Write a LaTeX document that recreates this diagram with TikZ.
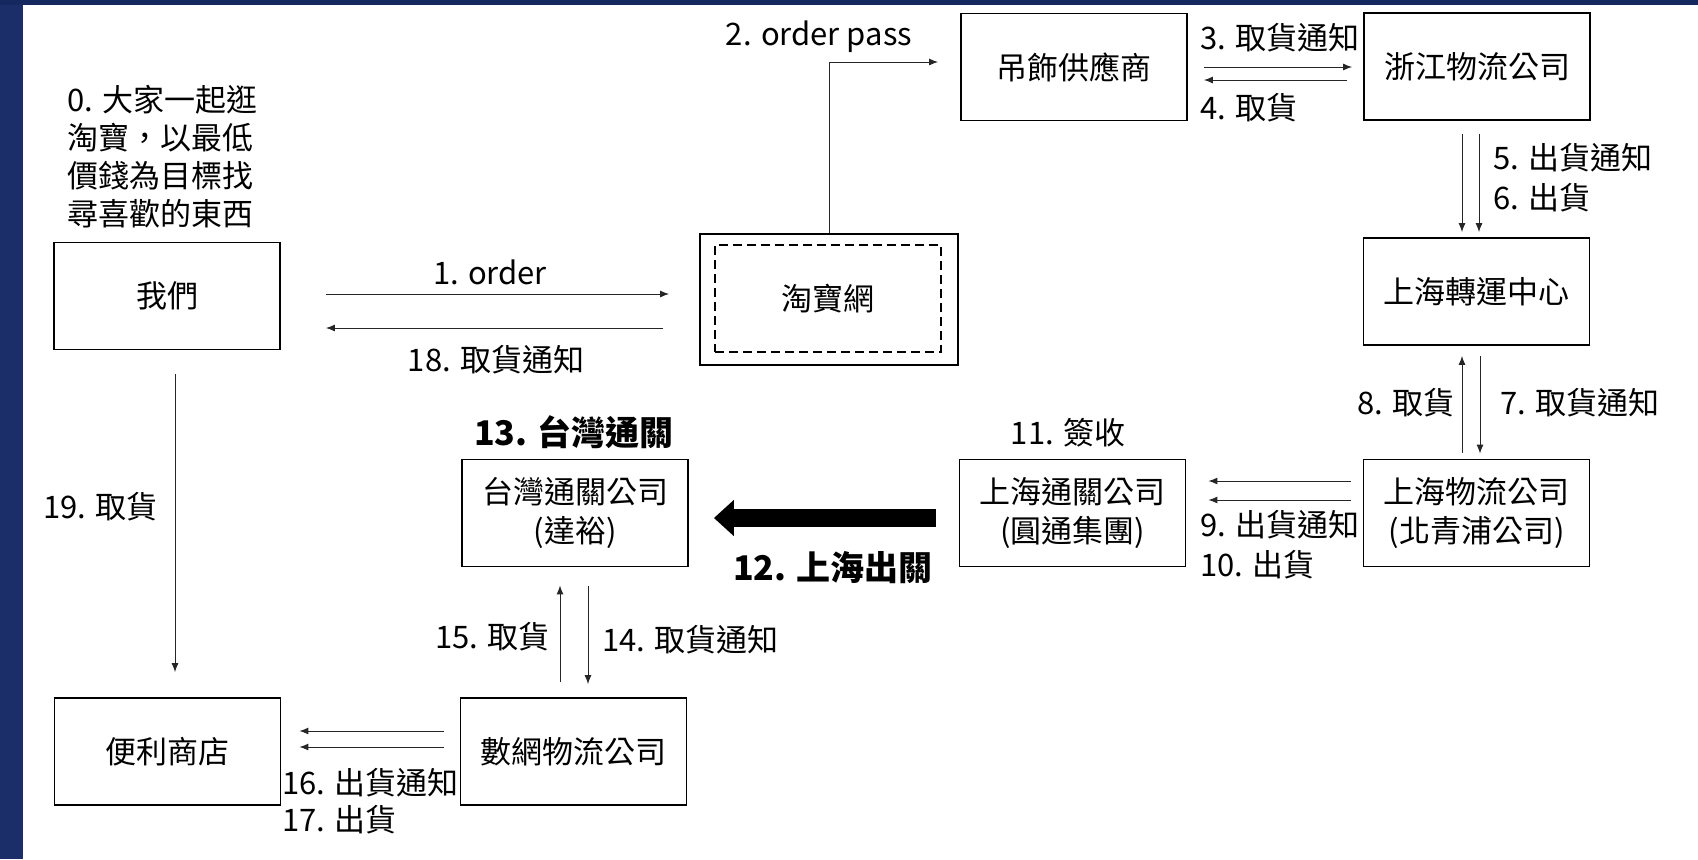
\documentclass[tikz,border=0pt]{standalone}
\usepackage{fontspec}
\setmainfont{Noto Sans CJK TC}
\usetikzlibrary{arrows.meta}
\definecolor{slideblue}{RGB}{28,46,105}
\definecolor{slidetop}{RGB}{22,40,96}

\begin{document}
\begin{tikzpicture}
[x=0.5pt,y=-0.5pt,>={Latex[length=4.5pt,width=3.5pt]},
 box/.style = {draw, line width=0.9pt, minimum width=113pt, minimum height=53.5pt, inner sep=0pt, align=center, font=\fontsize{15.5}{19.5}\selectfont},
 txt/.style = {inner sep=0pt, font=\fontsize{15.5}{19}\selectfont},
 big/.style = {inner sep=0pt, font=\fontsize{17}{20}\selectfont\bfseries},
 flow/.style = {->, line width=0.5pt, draw=black!85},]
\fill[slideblue] (0,0) rectangle (1698,859);
\fill[slidetop] (0,0) rectangle (1698,5);
\fill[white] (23,5) rectangle (1698,859);
\useasboundingbox (0,0) rectangle (1698,859);
% boxes
\node (we) at (167,296)[box] {我們};
\node (tb) at (829,299.5)[box,minimum width=129pt,minimum height=65.5pt] {};
\node (tbin) at (828,298.5)[box,dash pattern=on 4.5pt off 2.5pt] {淘寶網};
\node (sup) at (1074,67)[box] {吊飾供應商};
\node (zj) at (1477,66.5)[box] {浙江物流公司};
\node (shc) at (1476.5,291.5)[box] {上海轉運中心};
\node (shl) at (1476.5,513)[box] {上海物流公司\\(北青浦公司)};
\node (shk) at (1072.5,513)[box] {上海通關公司\\(圓通集團)};
\node (twk) at (575,513)[box] {台灣通關公司\\(達裕)};
\node (sw) at (573.5,751.5)[box] {數網物流公司};
\node (cvs) at (167.5,751.5)[box] {便利商店};
% labels
\node (l0) at (67,156.5)[txt,anchor=west,align=left] {0. 大家一起逛\\淘寶，以最低\\價錢為目標找\\尋喜歡的東西};
\node (l1) at (490,272)[txt] {1. order};
\node (l18) at (496,360)[txt] {18. 取貨通知};
\node (l2) at (819,37)[txt] {2. order pass};
\node (l3) at (1200,38)[txt,anchor=west] {3. 取貨通知};
\node (l4) at (1200,108)[txt,anchor=west] {4. 取貨};
\node (l5) at (1493,158)[txt,anchor=west] {5. 出貨通知};
\node (l6) at (1493,198)[txt,anchor=west] {6. 出貨};
\node (l8) at (1455,403)[txt,anchor=east] {8. 取貨};
\node (l7) at (1500,403)[txt,anchor=west] {7. 取貨通知};
\node (l9) at (1200,525)[txt,anchor=west] {9. 出貨通知};
\node (l10) at (1200,565)[txt,anchor=west] {10. 出貨};
\node (l11) at (1068,433)[txt] {11. 簽收};
\node (l12) at (833,568)[big] {12. 上海出關};
\node (l13) at (574,432)[big] {13. 台灣通關};
\node (l15) at (550,637)[txt,anchor=east] {15. 取貨};
\node (l14) at (602,640)[txt,anchor=west] {14. 取貨通知};
\node (l16) at (282,783)[txt,anchor=west] {16. 出貨通知};
\node (l17) at (282,820)[txt,anchor=west] {17. 出貨};
\node (l19) at (43,507)[txt,anchor=west] {19. 取貨};
% flows
\draw[flow,shorten <=22.5pt,shorten >=15pt] ([yshift=1pt]we.east) -- ([yshift=1pt]we.east -| tb.west);
\draw[flow,shorten <=18pt,shorten >=22.5pt] ([yshift=-16pt]we.east -| tb.west) -- ([yshift=-16pt]we.east);
\draw[flow,shorten >=11pt] (tb.north) |- ([yshift=2.5pt]sup.west);
\draw[flow,shorten <=8pt,shorten >=5.5pt] (sup.east) -- (sup.east -| zj.west);
\draw[flow,shorten <=8pt,shorten >=8pt] ([yshift=-6.5pt]sup.east -| zj.west) -- ([yshift=-6.5pt]sup.east);
\draw[flow,shorten <=6.5pt,shorten >=2.5pt] ([xshift=-7.5pt]zj.south) -- ([xshift=-7.5pt]zj.south |- shc.north);
\draw[flow,shorten <=6.5pt,shorten >=2.5pt] ([xshift=1pt]zj.south) -- ([xshift=1pt]zj.south |- shc.north);
\draw[flow,shorten <=3pt,shorten >=5pt] ([xshift=-7.25pt]shl.north) -- ([xshift=-7.25pt]shl.north |- shc.south);
\draw[flow,shorten <=5pt,shorten >=2.5pt] ([xshift=1.75pt]shl.north |- shc.south) -- ([xshift=1.75pt]shl.north);
\draw[flow,shorten <=6pt,shorten >=11pt] ([yshift=16pt]shl.west) -- ([yshift=16pt]shl.west -| shk.east);
\draw[flow,shorten <=6pt,shorten >=11pt] ([yshift=6.5pt]shl.west) -- ([yshift=6.5pt]shl.west -| shk.east);
\draw[line width=9pt,-{Triangle[length=10pt,width=17.5pt]},shorten <=11.5pt,shorten >=12.5pt] ([yshift=-2.5pt]shk.west) -- ([yshift=-2.5pt]shk.west -| twk.east);
\draw[flow,shorten <=7.5pt,shorten >=9pt] ([xshift=-7.5pt]twk.south |- sw.north) -- ([xshift=-7.5pt]twk.south);
\draw[flow,shorten <=9.5pt,shorten >=6.5pt] ([xshift=6.5pt]twk.south) -- ([xshift=6.5pt]twk.south |- sw.north);
\draw[flow,shorten <=8pt,shorten >=9pt] ([yshift=10.25pt]sw.west) -- ([yshift=10.25pt]sw.west -| cvs.east);
\draw[flow,shorten <=8pt,shorten >=9pt] ([yshift=2.25pt]sw.west) -- ([yshift=2.25pt]sw.west -| cvs.east);
\draw[flow,shorten <=12pt,shorten >=12.5pt] ([xshift=4pt]we.south) -- ([xshift=4pt]we.south |- cvs.north);
\end{tikzpicture}
\end{document}
